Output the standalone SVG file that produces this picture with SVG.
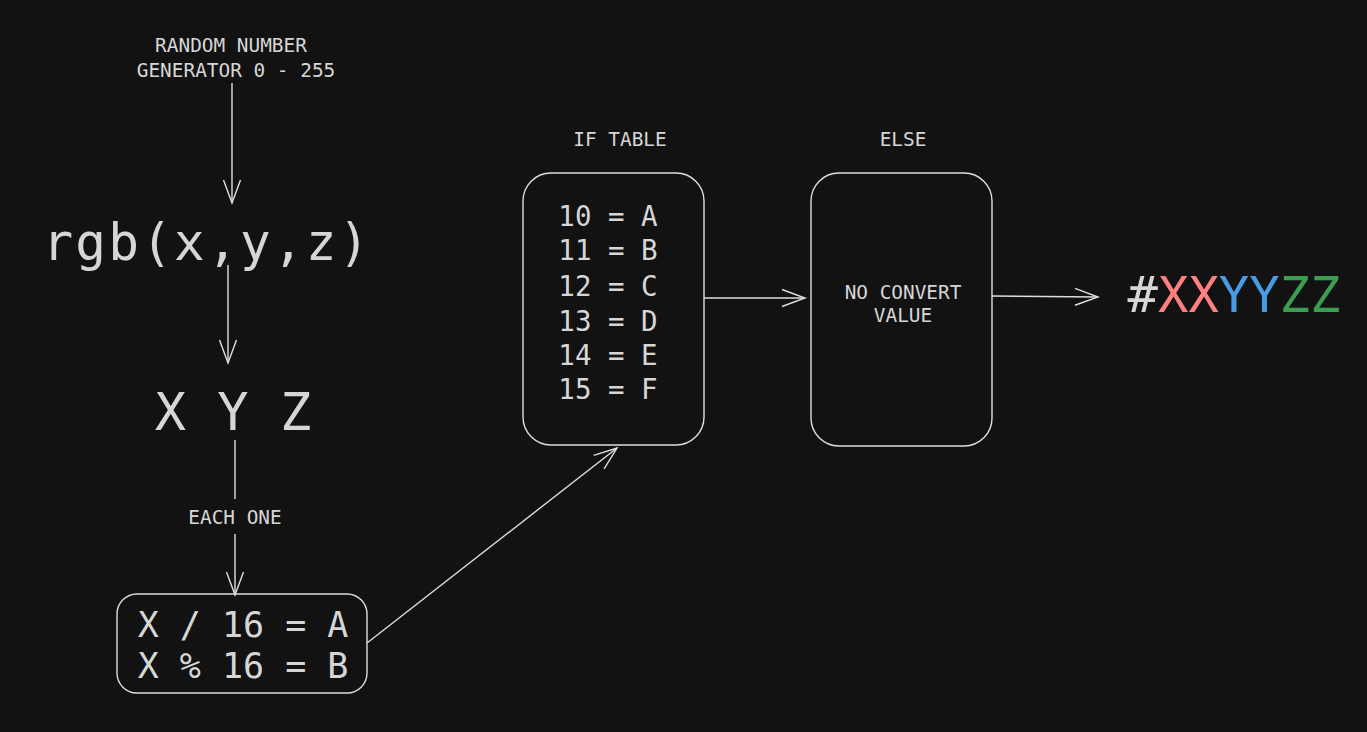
<svg xmlns="http://www.w3.org/2000/svg" width="1367" height="732" viewBox="0 0 1367 732">
<defs>
<style>
.t{font-family:"DejaVu Sans Mono","Liberation Mono",monospace;fill:#d6d6d6;text-anchor:middle}
.box{fill:none;stroke:#dedede;stroke-width:1.4}
.con{fill:none;stroke:#dedede;stroke-width:1.4}
</style>
<marker id="ah" markerUnits="userSpaceOnUse" markerWidth="30" markerHeight="24" viewBox="-24 -12 30 24" refX="0" refY="0" orient="auto">
<path d="M-23,-8.5 L0,0 L-23,8.5" fill="none" stroke="#dedede" stroke-width="1.4"/>
</marker>
</defs>
<rect width="1367" height="732" fill="#121212"/>
<g id="generator">
<text class="t" x="231" y="52" font-size="19.4">RANDOM NUMBER</text>
<text class="t" x="236" y="77" font-size="19.4">GENERATOR 0 - 255</text>
</g>
<g id="rgb">
<text class="t" x="207" y="260" font-size="51" letter-spacing="2.2">rgb(x,y,z)</text>
</g>
<g id="xyz">
<text class="t" x="233" y="430" font-size="52">X Y Z</text>
</g>
<g id="divide">
<rect class="box" x="117" y="594" width="250" height="99" rx="20"/>
<text class="t" x="243" y="637" font-size="35">X / 16 = A</text>
<text class="t" x="243" y="678" font-size="35">X % 16 = B</text>
</g>
<g id="iftable">
<text class="t" x="620" y="146" font-size="19.4">IF TABLE</text>
<rect class="box" x="523" y="173" width="181" height="272" rx="28"/>
<text class="t" x="608" y="226" font-size="27.5">10 = A</text>
<text class="t" x="608" y="260" font-size="27.5">11 = B</text>
<text class="t" x="608" y="296" font-size="27.5">12 = C</text>
<text class="t" x="608" y="331" font-size="27.5">13 = D</text>
<text class="t" x="608" y="365" font-size="27.5">14 = E</text>
<text class="t" x="608" y="399" font-size="27.5">15 = F</text>
</g>
<g id="else">
<text class="t" x="903" y="146" font-size="19.4">ELSE</text>
<rect class="box" x="811" y="173" width="181" height="273" rx="28"/>
<text class="t" x="903" y="299" font-size="19.4">NO CONVERT</text>
<text class="t" x="903" y="322" font-size="19.4">VALUE</text>
</g>
<g id="result">
<text class="t" x="1234" y="312" font-size="50.5"><tspan fill="#d6d6d6">#</tspan><tspan fill="#ff8080">XX</tspan><tspan fill="#4a9be6">YY</tspan><tspan fill="#3d9e52">ZZ</tspan></text>
</g>
<g id="connectors">
<line class="con" x1="232" y1="83" x2="232" y2="203" marker-end="url(#ah)"/>
<line class="con" x1="228" y1="265" x2="228" y2="363" marker-end="url(#ah)"/>
<line class="con" x1="235" y1="440" x2="235" y2="499"/>
<text class="t" x="235" y="524" font-size="19.4">EACH ONE</text>
<line class="con" x1="235" y1="534" x2="235" y2="595" marker-end="url(#ah)"/>
<line class="con" x1="367" y1="643" x2="617" y2="448" marker-end="url(#ah)"/>
<line class="con" x1="704" y1="298" x2="805" y2="298" marker-end="url(#ah)"/>
<line class="con" x1="992" y1="296" x2="1098" y2="297" marker-end="url(#ah)"/>
</g>
</svg>
